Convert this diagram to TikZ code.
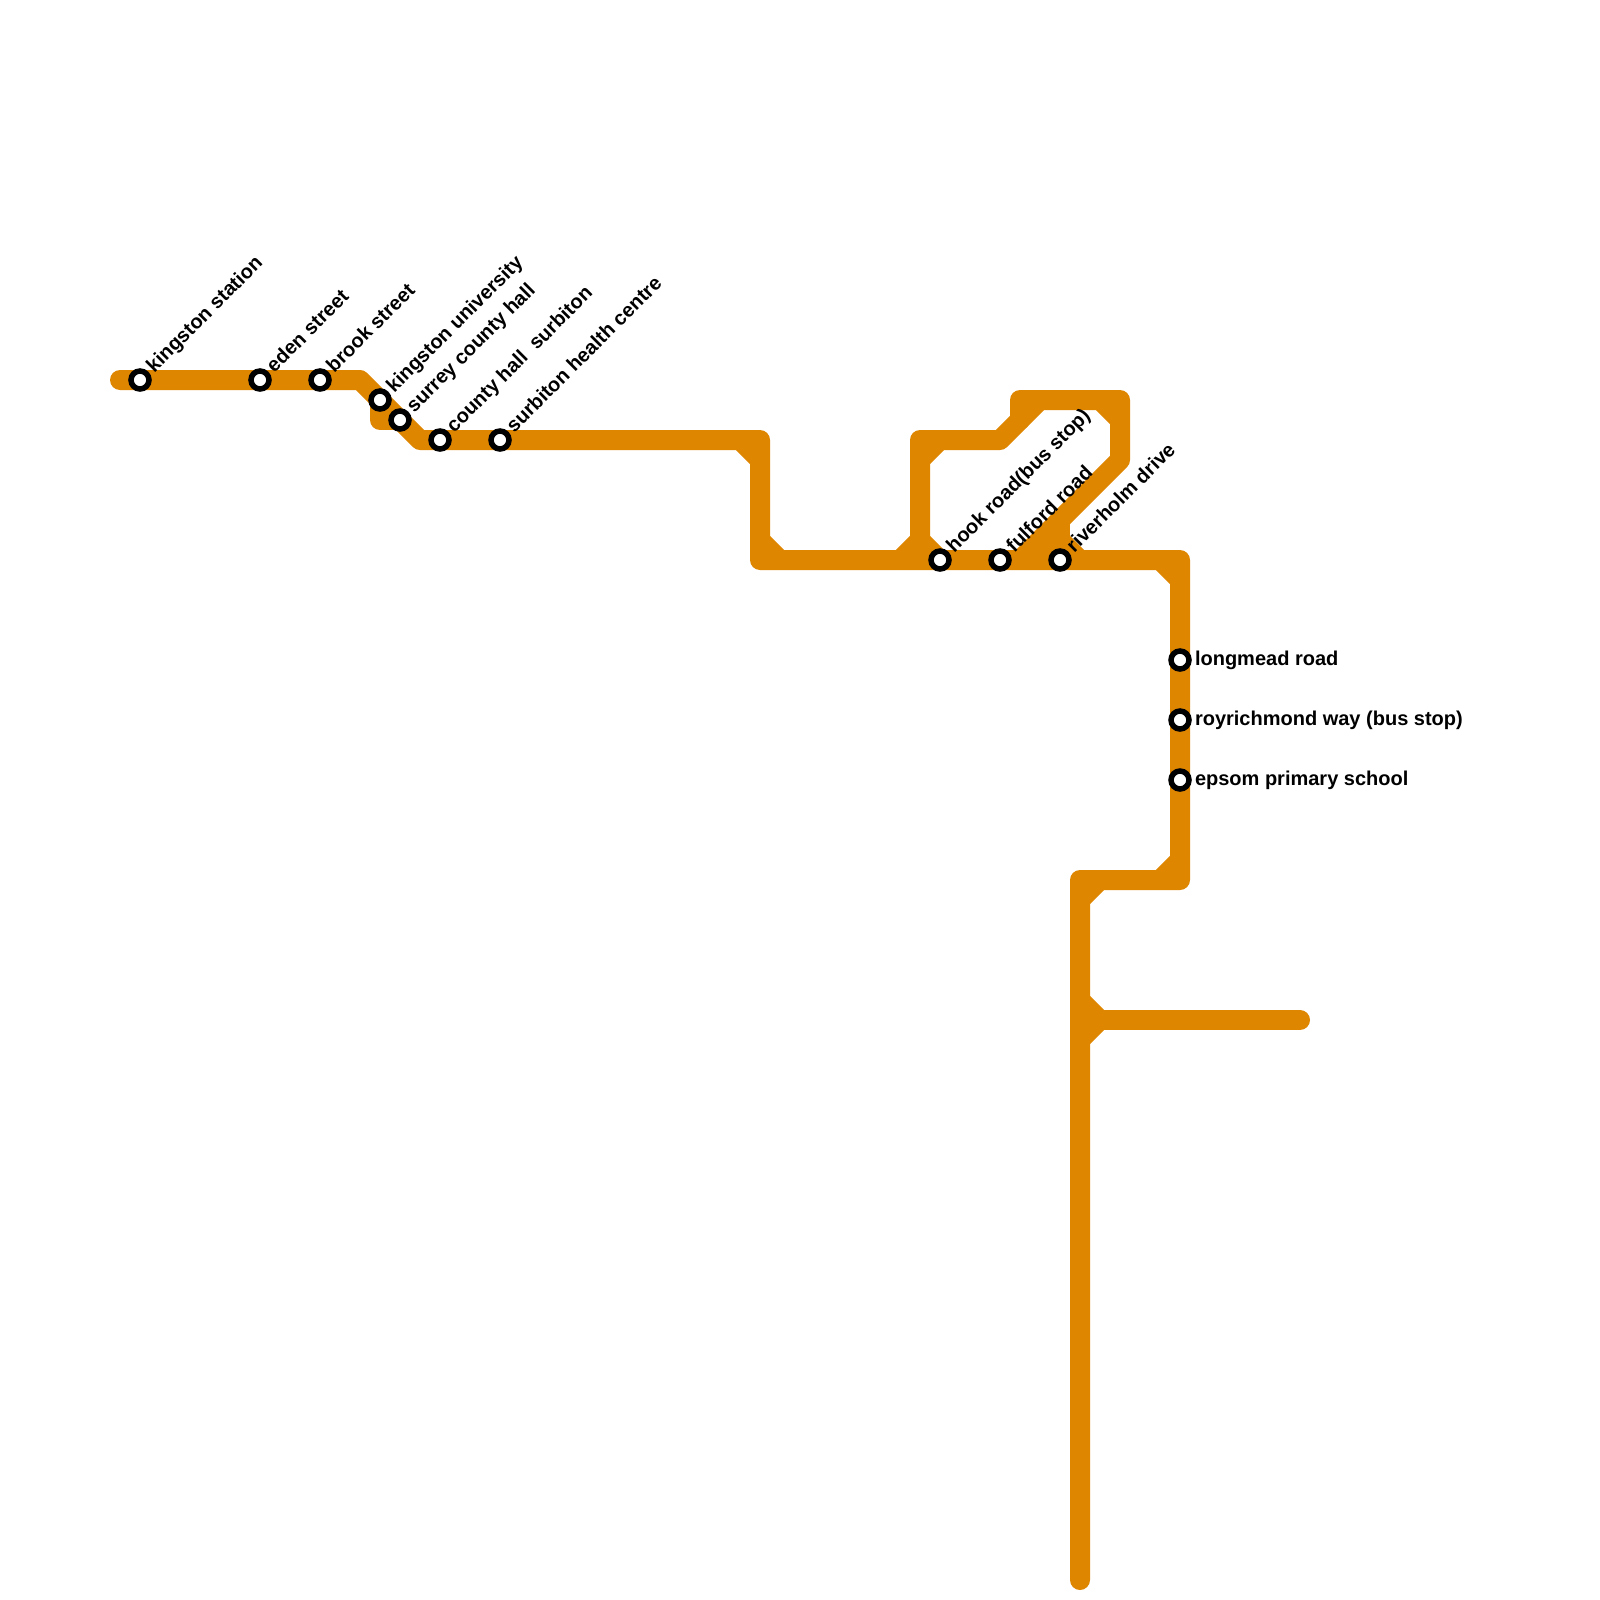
\documentclass[tikz,border=0pt]{standalone}
\usepackage{fontspec}
\setmainfont{Liberation Sans}
\definecolor{lineorange}{HTML}{DF8600}
\tikzset{
  x=1pt,y=-1pt,
  metro/.style={draw=lineorange,line width=20pt,line cap=round,line join=round},
  stopdot/.style={circle,draw=black,fill=white,line width=5.5pt,minimum size=18pt,inner sep=0pt,outer sep=0pt},
  stoplabel/.style={anchor=base west,inner sep=0pt,outer sep=0pt,font=\fontsize{20}{20}\selectfont\bfseries,text=black},
  diaglabel/.style={stoplabel,rotate=45}
}
\begin{document}
\begin{tikzpicture}
\useasboundingbox (0,0) rectangle (1600,1600);
% line coordinates
\foreach \n/\x/\y in {a/120/380,b/360/380,c/420/440,d/760/440,e/760/560,f/1180/560,g/1180/880,h/1080/880,i/1080/1580,
  j/1300/1020,k/1080/1020,l/920/560,m/920/440,n/1000/440,o/1040/400,q/1020/420,r/1020/400,s/1120/400,t/1120/460,u/1020/560,
  v/1060/520,w/1060/560,x/380/400,y/380/420,z/400/420,
  a1/740/440,a2/760/460,b1/760/540,b2/780/560,c1/900/560,c2/920/540,c3/940/560,d1/920/460,d2/940/440,
  e1/1100/400,e2/1120/420,f0/1040/560,f1/1060/540,f2/1080/560,g1/1160/560,g2/1180/580,h1/1160/880,h2/1180/860,
  i1/1080/900,i2/1100/880,j1/1080/1000,j2/1100/1020,j3/1080/1040}{\coordinate (\n) at (\x,\y);}
% stations
\foreach \n/\x/\y in {s1/140/380,s2/260/380,s3/320/380,s4/380/400,s5/400/420,s6/440/440,s7/500/440,s8/940/560,s9/1000/560,s10/1060/560,s11/1180/660,s12/1180/720,s13/1180/780}{\coordinate (\n) at (\x,\y);}
% main line
\draw[metro] (a)--(b)--(c)--(d)--(e)--(f)--(g)--(h)--(i);
\draw[metro] (k)--(j);
\draw[metro] (x)--(y)--(z);
\draw[metro] (l)--(m)--(n)--(o);
\draw[metro] (q)--(r)--(s)--(t)--(u);
\draw[metro] (v)--(w);
% junction fillets
\draw[metro] (a1)--(a2);
\draw[metro] (b1)--(b2);
\draw[metro] (c1)--(c2)--(c3);
\draw[metro] (d1)--(d2);
\draw[metro] (e1)--(e2);
\draw[metro] (f0)--(f1)--(f2);
\draw[metro] (g1)--(g2);
\draw[metro] (h1)--(h2);
\draw[metro] (i1)--(i2);
\draw[metro] (j1)--(j2)--(j3);
% station markers
\foreach \n in {s1,s2,s3,s4,s5,s6,s7,s8,s9,s10,s11,s12,s13}{\node[stopdot] (dot\n) at (\n) {};}
% labels
\foreach \n/\t in {s1/kingston station,s2/eden street,s3/brook street,s4/kingston university,s5/surrey county hall,s6/county hall\ \ surbiton,s7/surbiton health centre,s8/hook road(bus stop),s9/fulford road,s10/riverholm drive}{
  \node[diaglabel] (lab\n) at ([shift={(14.4,-6.6)}]\n) {\t};}
\foreach \n/\t in {s11/longmead road,s12/royrichmond way (bus stop),s13/epsom primary school}{
  \node[stoplabel] (lab\n) at ([shift={(15,5.4)}]\n) {\t};}
\end{tikzpicture}
\end{document}
